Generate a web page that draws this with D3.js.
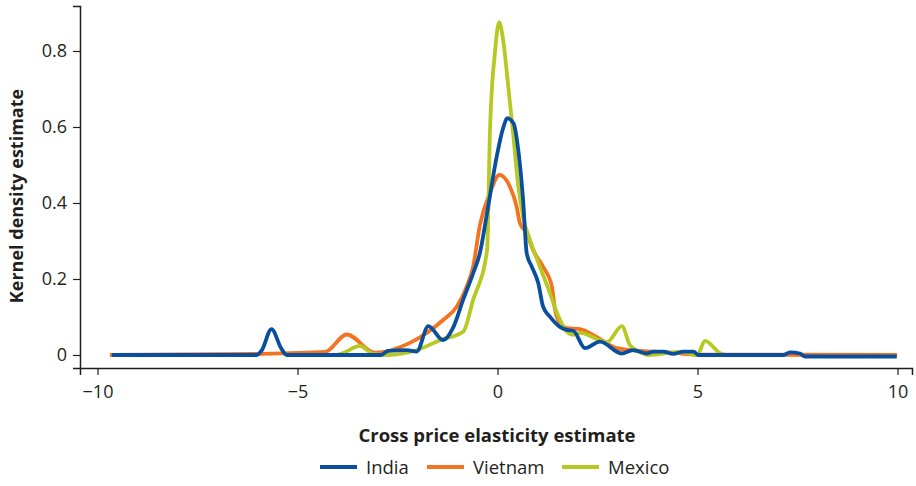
<!DOCTYPE html>
<html><head><meta charset="utf-8">
<script src="https://cdn.jsdelivr.net/npm/d3@7"></script>
<style>body{margin:0;background:#fff}svg{display:block}text{font-family:"Open Sans",sans-serif;fill:#231f20}</style>
</head><body><svg id="c" width="916" height="486"></svg>
<script>
const xTicks = [-10, -5, 0, 5, 10];
const yTicks = [0, 0.2, 0.4, 0.6, 0.8];
const seriesNames = ["India", "Vietnam", "Mexico"];
const seriesColors = ["#0a4f9e", "#f47321", "#b6c923"];

const indiaX = [-9.64,-6.02,-5.89,-5.65,-5.41,-5.27,-2.91,-2.74,-2.27,-2.02,-1.73,-1.36,-1.1,-0.86,-0.61,-0.44,-0.27,-0.02,0.14,0.25,0.4,0.52,0.64,0.73,0.86,1.02,1.14,1.31,1.56,1.73,1.9,2.19,2.56,3.1,3.39,3.73,3.9,4.15,4.39,4.65,4.9,5.02,7.15,7.31,7.56,7.69,9.98];
const indiaY = [0,0,0.013,0.068,0.018,0,0,0.011,0.013,0.009,0.076,0.039,0.074,0.145,0.215,0.268,0.368,0.522,0.597,0.623,0.61,0.539,0.408,0.268,0.232,0.189,0.127,0.101,0.074,0.066,0.063,0.018,0.035,0.004,0.013,0.004,0.009,0.009,0.003,0.009,0.009,0,0,0.007,0.004,-0.004,-0.004];

const vietnamX = [-9.69,-5.94,-4.31,-3.77,-3.06,-2.19,-1.77,-1.36,-1.02,-0.77,-0.61,-0.44,-0.19,0.05,0.31,0.48,0.56,0.73,0.89,1.14,1.36,1.44,1.56,1.73,2.06,2.39,2.98,3.56,4.39,4.98,9.99];
const vietnamY = [0,0.003,0.008,0.054,0.006,0.032,0.058,0.092,0.127,0.18,0.232,0.342,0.426,0.474,0.443,0.39,0.347,0.321,0.276,0.232,0.18,0.118,0.084,0.071,0.068,0.053,0.018,0.011,0.006,0.001,0];

const mexicoX = [-4.01,-3.86,-3.44,-3.11,-2.76,-2.01,-1.44,-0.86,-0.61,-0.26,-0.19,-0.06,0.04,0.14,0.26,0.39,0.51,0.64,0.81,1.06,1.31,1.49,1.74,1.89,2.06,2.74,3.11,3.31,3.56,3.81,4.24,4.56,4.99,5.19,5.56,5.69];
const mexicoY = [0,0.005,0.024,0.003,0,0.013,0.039,0.061,0.145,0.276,0.584,0.8,0.876,0.83,0.716,0.584,0.453,0.363,0.303,0.232,0.163,0.11,0.06,0.053,0.058,0.034,0.076,0.026,0.008,0,0.005,0.008,0,0.037,0.005,0];

const svg = d3.select("#c");
const x = d3.scaleLinear().domain([-10.4375, 10.3625]).range([80, 912]);
const y = d3.scaleLinear().domain([-0.0342, 0.9184]).range([368, 6]);

const xAxis = svg.append("g").attr("transform","translate(0,368)")
  .call(d3.axisBottom(x).tickValues(xTicks).tickSize(7).tickPadding(10)
    .tickFormat(d => d < 0 ? "\u2212" + Math.abs(d) : String(d)));
const yAxis = svg.append("g").attr("transform","translate(80,0)")
  .call(d3.axisLeft(y).tickValues(yTicks).tickSize(7).tickPadding(6)
    .tickFormat(d => d === 0 ? "0" : d3.format(".1f")(d)));
[xAxis, yAxis].forEach(g => {
  g.select(".domain").attr("stroke","#231f20").attr("stroke-width",1.5);
  g.selectAll(".tick line").attr("stroke","#231f20").attr("stroke-width",1.2);
  g.selectAll(".tick text").attr("font-size",18).attr("fill","#231f20").style("font-family","'Open Sans',sans-serif");
});

const series = [
  {name: seriesNames[1], xs: vietnamX, ys: vietnamY, color: seriesColors[1]},
  {name: seriesNames[2], xs: mexicoX, ys: mexicoY, color: seriesColors[2]},
  {name: seriesNames[0], xs: indiaX, ys: indiaY, color: seriesColors[0]}
];
const line = d3.line().x(d => x(d[0])).y(d => y(d[1])).curve(d3.curveMonotoneX);
series.forEach(s => {
  svg.append("path").datum(s.xs.map((v,i) => [v, s.ys[i]]))
    .attr("d", line).attr("fill","none").attr("stroke", s.color)
    .attr("stroke-width", 3.8).attr("stroke-linejoin","round");
});

svg.append("text").attr("x", 497).attr("y", 442).attr("text-anchor","middle")
  .attr("font-size",18.5).attr("font-weight","bold").text("Cross price elasticity estimate");
svg.append("text").attr("transform","translate(23,196) rotate(-90)").attr("text-anchor","middle")
  .attr("font-size",18).attr("font-weight","bold").text("Kernel density estimate");

const legendX = [320, 427, 562];
seriesNames.forEach((n,i) => {
  const g = svg.append("g").attr("transform", `translate(${legendX[i]},467)`);
  g.append("line").attr("x1",0).attr("x2",37).attr("y1",0).attr("y2",0)
    .attr("stroke", seriesColors[i]).attr("stroke-width",3.8);
  g.append("text").attr("x",46).attr("y",6.5).attr("font-size",18.5).text(n);
});
</script></body></html>
